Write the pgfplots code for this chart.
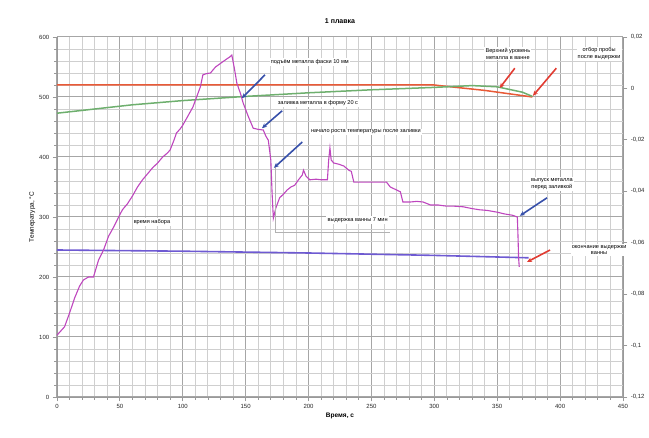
\documentclass[border=0pt]{standalone}
\usepackage{pgfplots}
\pgfplotsset{compat=1.18}
\usepackage{fontspec}
\setmainfont{Liberation Sans}
\usetikzlibrary{arrows.meta}

\definecolor{tempc}{RGB}{190,70,190}
\definecolor{basec}{RGB}{110,90,210}
\definecolor{redc}{RGB}{232,90,55}
\definecolor{greenc}{RGB}{110,175,110}
\definecolor{arrb}{RGB}{55,80,170}
\definecolor{arrr}{RGB}{225,60,50}

% temperature of the melt, deg C
\pgfplotstableread{
t T
0 103
3 110
6 117
10 140
14 165
18 185
21 195
25 200
29 200
33 228
37 245
41 268
45 283
49 300
52 312
56 322
60 335
64 350
68 362
72 372
76 382
80 390
84 400
88 407
90 412
93 428
95 440
98 447
100 453
104 468
108 483
111 500
114 517
116 537
119 539
122 540
126 550
130 556
134 562
137.5 567
139 570
141 548
143 523
146 505
148 490
152 468
156 448
160 446
164 445
166 435
168 428
170 395
171 340
172 298
174 315
177 332
180 338
183 345
186 350
189 353
192 362
195 370
196 378
198 368
201 362
206 363
210 362
215 362
216 395
217 415
218 395
220 390
224 388
228 385
232 378
234 376
236 358
242 358
250 358
258 358
262 358
265 350
270 345
273 342
275 325
281 325
286 326
291 325
297 320
303 320
310 318
316 318
323 317
330 314
336 312
342 311
350 308
356 305
362 303
366 300
366.5 270
367 232
367.5 217
}\temptable

% reference level
\pgfplotstableread{
t T
0 245
100 243
200 240
300 236
375 232
}\basetable

% upper level
\pgfplotstableread{
t T
0 520
100 520
200 520
300 520
304 519
340 511
378 500
}\redtable

% second level
\pgfplotstableread{
t T
0 473
30 480
60 487
100 494
150 501
200 507
250 512
300 516
330 519
350 517
370 508
378 501
}\greentable

\begin{document}
\begin{tikzpicture}[x=1pt,y=1pt]
\path[use as bounding box] (0,0) rectangle (649,438);

% secondary axis on the right
\begin{axis}[
  at={(57pt,41pt)}, anchor=south west,
  width=566pt, height=360pt, scale only axis,
  xmin=0, xmax=450,
  ymin=-0.12, ymax=0.02,
  axis x line=none,
  axis y line*=right,
  y axis line style={gray!80, line width=0.8pt},
  ytick={-0.12,-0.1,-0.08,-0.06,-0.04,-0.02,0,0.02},
  yticklabels={{-0,12},{-0,1},{-0,08},{-0,06},{-0,04},{-0,02},0,{0,02}},
  ytick style={gray!80, line width=0.8pt},
  tick align=outside,
  yticklabel style={font=\fontsize{6}{7}\selectfont, text=black!85},
]
\end{axis}

\begin{axis}[
  at={(57pt,41pt)}, anchor=south west,
  width=566pt, height=360pt, scale only axis,
  xmin=0, xmax=450, ymin=0, ymax=600,
  xtick={0,50,...,450}, ytick={0,100,...,600},
  minor x tick num=4, minor y tick num=4,
  grid=both,
  major grid style={gray!70, line width=1pt},
  minor grid style={gray!38, line width=0.9pt},
  axis line style={gray!80, line width=0.8pt},
  tick style={gray!80, line width=0.8pt},
  tick align=outside,
  axis x line*=bottom, axis y line*=left,
  clip=false,
  /pgf/number format/assume math mode=true,
  ticklabel style={font=\fontsize{6}{7}\selectfont, text=black!85},
  xlabel={Время, с},
  ylabel={Температура, °С},
  xlabel style={font=\fontsize{6.5}{7.5}\selectfont\bfseries, yshift=3pt},
  ylabel style={font=\fontsize{6.5}{7.5}\selectfont, yshift=-3pt},
  title={1 плавка},
  title style={font=\fontsize{7}{8}\selectfont\bfseries, yshift=4pt},
]
\addplot[redc, line width=1.5pt] table[x=t,y=T] {\redtable};
\addplot[greenc, line width=1.5pt] table[x=t,y=T] {\greentable};
\addplot[basec, line width=1.6pt] table[x=t,y=T] {\basetable};
\addplot[tempc, line width=1.1pt] table[x=t,y=T] {\temptable};

% frame around the holding-stage note
\draw[gray!60, line width=0.8pt] (axis cs:173.5,385) -- (axis cs:173.5,275) -- (axis cs:265,275);

\begin{scope}[every node/.style={font=\fontsize{5.6}{6.6}\selectfont, fill=white, inner sep=1.2pt, align=center}]
\node at (axis cs:201,558) {подъём металла фаски 10 мм};
\node at (axis cs:207.5,490) {заливка металла в форму 20 с};
\node at (axis cs:245.6,442) {начало роста температуры после заливки};
\node at (axis cs:75.5,292) {время набора};
\node at (axis cs:239,295) {выдержка ванны 7 мин};
\node at (axis cs:358.5,572) {Верхний уровень\\металла в ванне};
\node at (axis cs:431,572) {отбор пробы\\после выдержки};
\node at (axis cs:393.5,355) {выпуск металла\\перед заливкой};
\node at (axis cs:431,245) {окончание выдержки\\ванны};
\end{scope}

\begin{scope}[line width=1.6pt, -{Stealth[length=5pt,width=4.5pt]}]
\draw[arrb] (axis cs:165.4,537) -- (axis cs:147,498);
\draw[arrb] (axis cs:179,477) -- (axis cs:163,448);
\draw[arrb] (axis cs:195,425) -- (axis cs:172.5,382);
\draw[arrb] (axis cs:389.6,332) -- (axis cs:368,302);
\draw[arrr] (axis cs:364,548) -- (axis cs:352,515);
\draw[arrr] (axis cs:397,548) -- (axis cs:378.4,502);
\draw[arrr] (axis cs:392,245) -- (axis cs:373.7,225);
\end{scope}
\end{axis}
\end{tikzpicture}
\end{document}
